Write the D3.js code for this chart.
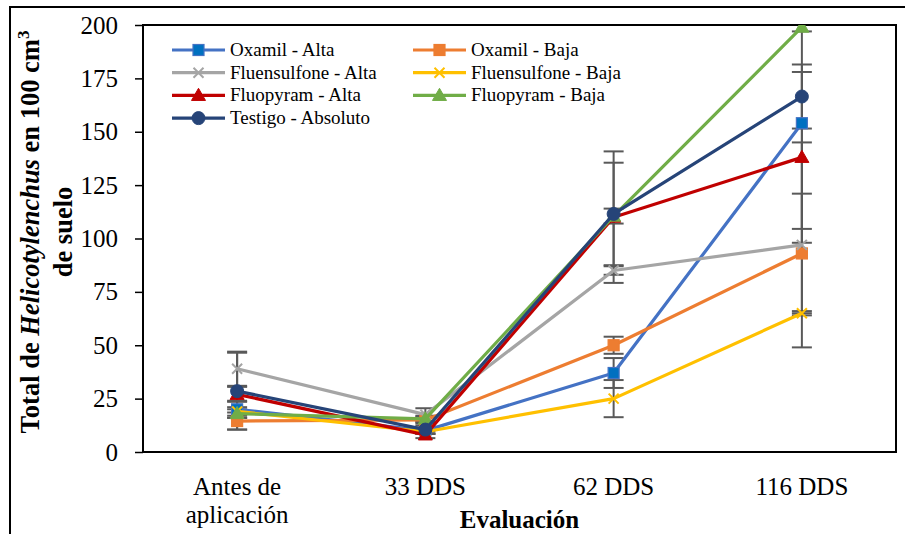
<!DOCTYPE html>
<html>
<head>
<meta charset="utf-8">
<script src="https://cdn.jsdelivr.net/npm/d3@7"></script>
<style>
  html, body { margin: 0; padding: 0; background: #fff; }
  svg text { font-family: "Liberation Serif", "DejaVu Serif", "Times New Roman", Times, serif !important; }
</style>
</head>
<body>
<svg id="chart" width="905" height="534"></svg>
<script>
// Evaluation moments (x categories)
const categories = ["Antes de aplicación", "33 DDS", "62 DDS", "116 DDS"];
const categoryLines = [["Antes de", "aplicación"], ["33 DDS"], ["62 DDS"], ["116 DDS"]];

// Treatment names
const seriesNames = [
  "Oxamil - Alta", "Oxamil - Baja",
  "Fluensulfone - Alta", "Fluensulfone - Baja",
  "Fluopyram - Alta", "Fluopyram - Baja",
  "Testigo - Absoluto"
];

// Mean Helicotylenchus counts per 100 cm³ of soil
const oxamilAlta       = [20, 10, 37, 154];
const oxamilBaja       = [14.5, 15, 50, 93];
const fluensulfoneAlta = [39, 17.5, 85, 97];
const fluensulfoneBaja = [19, 9.5, 25, 65];
const fluopyramAlta    = [27, 8, 110, 138];
const fluopyramBaja    = [18, 15.5, 110.5, 199];
const testigoAbsoluto  = [28.5, 10.5, 111.5, 166.5];

// Standard errors
const errOxamilAlta       = [4, 1.5, 7, 49.5];
const errOxamilBaja       = [4, 1.5, 4, 28];
const errFluensulfoneAlta = [8, 3, 2, 48];
const errFluensulfoneBaja = [2, 1, 8.7, 1];
const errFluopyramAlta    = [3.5, 1.5, 30.8, 40];
const errFluopyramBaja    = [2, 1.5, 3.5, 2];
const errTestigoAbsoluto  = [18, 2, 24, 15];

const yTicks = [0, 25, 50, 75, 100, 125, 150, 175, 200];

const colors = ["#4472C4", "#ED7D31", "#A5A5A5", "#FFC000", "#C00000", "#70AD47", "#264478"];
const markerFill = ["#0070C0", "#ED7D31", "#A5A5A5", "#FFC000", "#C00000", "#70AD47", "#264478"];
const markers = ["square", "square", "x", "x", "triangle", "triangle", "circle"];

const values = [oxamilAlta, oxamilBaja, fluensulfoneAlta, fluensulfoneBaja, fluopyramAlta, fluopyramBaja, testigoAbsoluto];
const errors = [errOxamilAlta, errOxamilBaja, errFluensulfoneAlta, errFluensulfoneBaja, errFluopyramAlta, errFluopyramBaja, errTestigoAbsoluto];

const series = seriesNames.map((name, i) => ({
  name, color: colors[i], fill: markerFill[i], marker: markers[i],
  points: categories.map((c, j) => ({ cat: c, v: values[i][j], e: errors[i][j] }))
}));

const FONT = "'Liberation Serif', 'DejaVu Serif', 'Times New Roman', Times, serif";
const svg = d3.select("#chart").attr("font-family", FONT);
const plot = { left: 143, right: 896, top: 25, bottom: 452 };

const x = d3.scaleBand().domain(categories).range([plot.left, plot.right]);
const y = d3.scaleLinear().domain([0, 200]).range([plot.bottom, plot.top]);
const cx = c => x(c) + x.bandwidth() / 2;

// Outer frame
svg.append("rect")
  .attr("x", 10).attr("y", 7).attr("width", 905).attr("height", 540)
  .attr("fill", "none").attr("stroke", "#000").attr("stroke-width", 2);

svg.append("defs").append("clipPath").attr("id", "plotClip")
  .append("rect")
  .attr("x", plot.left).attr("y", plot.top)
  .attr("width", plot.right - plot.left).attr("height", plot.bottom - plot.top);

// Y axis
const yAxis = svg.append("g")
  .attr("transform", `translate(${plot.left},0)`)
  .call(d3.axisLeft(y).tickValues(yTicks).tickSize(8).tickPadding(17));
yAxis.attr("font-family", FONT);
yAxis.select(".domain").remove();
yAxis.selectAll(".tick line").attr("stroke", "#000").attr("stroke-width", 1.5);
yAxis.selectAll(".tick text")
  .attr("fill", "#000").attr("font-size", 25);

// X category labels
const xAxis = svg.append("g")
  .attr("transform", `translate(0,${plot.bottom})`)
  .call(d3.axisBottom(x).tickSize(0).tickFormat(""));
xAxis.select(".domain").remove();
categories.forEach((c, i) => {
  const t = svg.append("text")
    .attr("x", cx(c)).attr("y", 495)
    .attr("text-anchor", "middle")
    .attr("font-size", 25).attr("fill", "#000");
  categoryLines[i].forEach((ln, k) => {
    t.append("tspan").attr("x", cx(c)).attr("dy", k === 0 ? 0 : 28).text(ln);
  });
});

// Axis titles
svg.append("text")
  .attr("x", (plot.left + plot.right) / 2).attr("y", 528)
  .attr("text-anchor", "middle")
  .attr("font-size", 25).attr("font-weight", "bold")
  .text("Evaluación");

const yTitle = svg.append("text")
  .attr("transform", "translate(39,232) rotate(-90)")
  .attr("text-anchor", "middle")
  .attr("font-size", 26.5).attr("font-weight", "bold");
yTitle.append("tspan").attr("x", 0).attr("dy", 0).text("Total de ");
yTitle.append("tspan").attr("font-style", "italic").text("Helicotylenchus");
yTitle.append("tspan").text(" en 100 cm");
yTitle.append("tspan").attr("dy", -10).attr("font-size", 17).text("3");
yTitle.append("tspan").attr("x", 0).attr("dy", 43).text("de suelo");

// Plot frame
svg.append("rect")
  .attr("x", plot.left).attr("y", plot.top)
  .attr("width", plot.right - plot.left).attr("height", plot.bottom - plot.top)
  .attr("fill", "none").attr("stroke", "#000").attr("stroke-width", 2);

const marks = svg.append("g").attr("clip-path", "url(#plotClip)");

// Error bars
const capHalf = 10;
series.forEach(s => {
  const g = marks.append("g");
  s.points.forEach(p => {
    const xc = cx(p.cat);
    g.append("line").attr("x1", xc).attr("x2", xc)
      .attr("y1", y(p.v - p.e)).attr("y2", y(p.v + p.e))
      .attr("stroke", "#595959").attr("stroke-width", 2);
    [p.v - p.e, p.v + p.e].forEach(v => {
      g.append("line").attr("x1", xc - capHalf).attr("x2", xc + capHalf)
        .attr("y1", y(v)).attr("y2", y(v))
        .attr("stroke", "#595959").attr("stroke-width", 2);
    });
  });
});

const line = d3.line().x(p => cx(p.cat)).y(p => y(p.v));

function drawMarker(g, type, px, py, color, fill) {
  if (type === "square") {
    g.append("rect").attr("x", px - 5.5).attr("y", py - 5.5)
      .attr("width", 11).attr("height", 11)
      .attr("fill", fill).attr("stroke", color).attr("stroke-width", 1.2);
  } else if (type === "circle") {
    g.append("circle").attr("cx", px).attr("cy", py).attr("r", 6.5)
      .attr("fill", fill).attr("stroke", color).attr("stroke-width", 1);
  } else if (type === "triangle") {
    g.append("path")
      .attr("d", d3.symbol().type(d3.symbolTriangle).size(85)())
      .attr("transform", `translate(${px},${py + 1})`)
      .attr("fill", fill).attr("stroke", color).attr("stroke-width", 1);
  } else if (type === "x") {
    const r = 5;
    g.append("path")
      .attr("d", `M${px - r},${py - r}L${px + r},${py + r}M${px - r},${py + r}L${px + r},${py - r}`)
      .attr("stroke", fill).attr("stroke-width", 2).attr("fill", "none");
  }
}

// Lines and markers, series by series
series.forEach(s => {
  const g = marks.append("g");
  g.append("path").datum(s.points).attr("d", line)
    .attr("fill", "none").attr("stroke", s.color).attr("stroke-width", 3.2)
    .attr("stroke-linejoin", "round");
  s.points.forEach(p => drawMarker(g, s.marker, cx(p.cat), y(p.v), s.color, s.fill));
});

// Legend
const legend = svg.append("g");
series.forEach((s, i) => {
  const col = i % 2, row = Math.floor(i / 2);
  const lx = col === 0 ? 172 : 413;
  const ly = 50 + row * 22.7;
  const g = legend.append("g");
  g.append("line").attr("x1", lx).attr("x2", lx + 53).attr("y1", ly).attr("y2", ly)
    .attr("stroke", s.color).attr("stroke-width", 3.2);
  drawMarker(g, s.marker, lx + 26.5, ly, s.color, s.fill);
  g.append("text").attr("x", lx + 58).attr("y", ly + 6)
    .attr("font-size", 19).attr("fill", "#000").text(s.name);
});
</script>
</body>
</html>
